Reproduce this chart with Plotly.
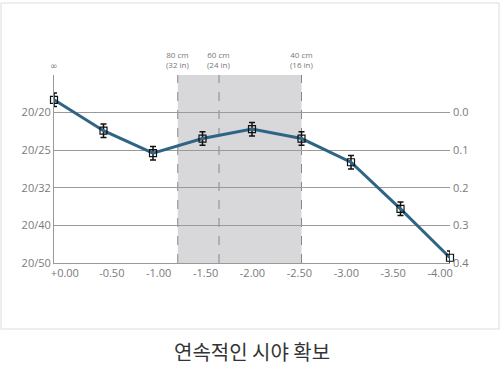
import plotly.graph_objects as go

# Data
defocus = [0.0, -0.5, -1.0, -1.5, -2.0, -2.5, -3.0, -3.5, -4.0]
logmar = [-0.034, 0.048, 0.108, 0.069, 0.044, 0.069, 0.132, 0.256, 0.386]
err = [0.018, 0.018, 0.018, 0.018, 0.018, 0.018, 0.018, 0.018, 0.018]
x_ticks = [0.0, -0.5, -1.0, -1.5, -2.0, -2.5, -3.0, -3.5, -4.0]
x_ticktext = ["+0.00", "-0.50", "-1.00", "-1.50", "-2.00", "-2.50", "-3.00", "-3.50", "-4.00"]
y_ticks = [0.0, 0.1, 0.2, 0.3, 0.4]
left_ticktext = ["20/20", "20/25", "20/32", "20/40", "20/50"]
right_ticktext = ["0.0", "0.1", "0.2", "0.3", "0.4"]
dist_x = [-1.25, -1.667, -2.5]
dist_labels = ["80 cm<br>(32 in)", "60 cm<br>(24 in)", "40 cm<br>(16 in)"]
title_text = "연속적인 시야 확보"

W, H = 500, 370
ML, MR, MT, MB = 54, 50, 75, 107
pw, ph = W - ML - MR, H - MT - MB

def px_x(p):
    return (p - ML) / pw

def px_y(p):
    return (H - MB - p) / ph

# tick labels in the reference are spread slightly inside the axis ends
label_pos = [-0.11 + t * (3.79 / 4.0) for t in x_ticks]

font = "Open Sans, Noto Sans, sans-serif"
grey = "#7a7a7a"

fig = go.Figure()
fig.add_trace(go.Scatter(
    x=defocus, y=logmar, mode="lines+markers",
    line=dict(color="#2f6485", width=3),
    marker=dict(symbol="square-open", size=7, color="#111", line=dict(width=1.2)),
    error_y=dict(type="data", array=err, color="#111", thickness=1.5, width=3),
    cliponaxis=False, showlegend=False,
))
fig.add_trace(go.Scatter(x=defocus, y=logmar, yaxis="y2", mode="none",
                         showlegend=False, hoverinfo="skip"))

shapes = [
    dict(type="rect", xref="x", yref="paper", x0=dist_x[0], x1=dist_x[2], y0=0, y1=1,
         fillcolor="#d8d8da", line=dict(width=0), layer="below"),
]
for xv in dist_x:
    shapes.append(dict(type="line", xref="x", yref="paper", x0=xv, x1=xv, y0=0, y1=1,
                       line=dict(color="#888", width=1, dash="dash"), layer="below"))
shapes.append(dict(type="rect", xref="paper", yref="paper",
                   x0=px_x(1), x1=px_x(499), y0=px_y(329), y1=px_y(3),
                   line=dict(color="#dcdcdc", width=1)))

annotations = []
for xv, t in zip(dist_x, dist_labels):
    annotations.append(dict(x=xv, y=1, xref="x", yref="paper", text=t, showarrow=False,
                            yanchor="bottom", yshift=3, font=dict(size=8, color="#777", family=font)))
annotations.append(dict(x=0, y=1, xref="x", yref="paper", text="∞", showarrow=False,
                        yanchor="bottom", yshift=2, font=dict(size=9, color="#777", family="DejaVu Sans")))
annotations.append(dict(x=0.5, y=px_y(351), xref="paper", yref="paper", text=title_text,
                        showarrow=False, xanchor="center", yanchor="middle",
                        font=dict(size=20, color="#333333", family="Noto Sans CJK KR")))

fig.update_layout(
    width=W, height=H, margin=dict(l=ML, r=MR, t=MT, b=MB),
    paper_bgcolor="white", plot_bgcolor="white",
    shapes=shapes, annotations=annotations,
    xaxis=dict(range=[0, -4], tickvals=label_pos, ticktext=x_ticktext, showgrid=False,
               zeroline=False, showline=True, linecolor="#999", linewidth=1,
               ticks="", tickfont=dict(size=11, color=grey, family=font)),
    yaxis=dict(range=[0.4, -0.1], tickvals=y_ticks, ticktext=left_ticktext,
               showgrid=True, gridcolor="#9a9a9a", gridwidth=1, zeroline=False,
               showline=True, linecolor="#999", linewidth=1, ticks="",
               tickfont=dict(size=11, color=grey, family=font)),
    yaxis2=dict(range=[0.4, -0.1], tickvals=y_ticks, ticktext=right_ticktext,
                overlaying="y", side="right", showgrid=False, zeroline=False,
                showline=False, ticks="", ticklabelstandoff=2,
                tickfont=dict(size=11, color=grey, family=font)),
)

fig.write_html("out.html", config={"displayModeBar": False},
               post_script="document.body.style.margin='0';document.body.style.overflow='hidden';")
